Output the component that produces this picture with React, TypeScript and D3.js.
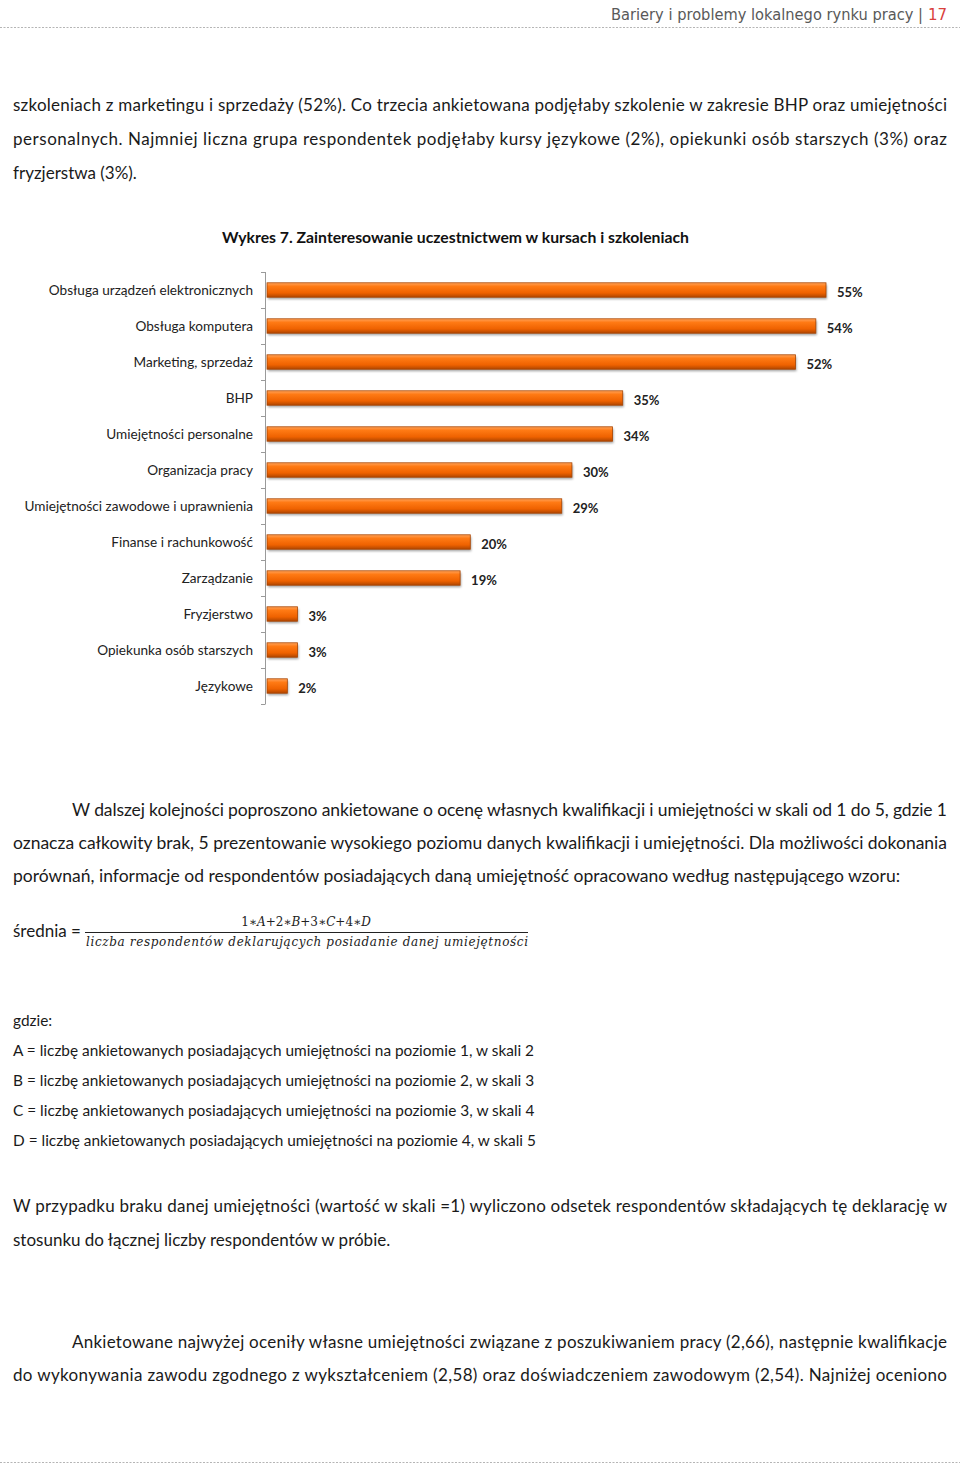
import React from "react";
import * as d3 from "d3";

const categories = [
  "Obsługa urządzeń elektronicznych",
  "Obsługa komputera",
  "Marketing, sprzedaż",
  "BHP",
  "Umiejętności personalne",
  "Organizacja pracy",
  "Umiejętności zawodowe i uprawnienia",
  "Finanse i rachunkowość",
  "Zarządzanie",
  "Fryzjerstwo",
  "Opiekunka osób starszych",
  "Językowe",
];
const values = [55, 54, 52, 35, 34, 30, 29, 20, 19, 3, 3, 2];

const chartTitle = "Wykres 7. Zainteresowanie uczestnictwem w kursach i szkoleniach";

const para1 = [
  { t: "szkoleniach z marketingu i sprzedaży (52%). Co trzecia ankietowana podjęłaby szkolenie w zakresie BHP oraz umiejętności", j: true, x: 13, y: 111 },
  { t: "personalnych. Najmniej liczna grupa respondentek podjęłaby kursy językowe (2%), opiekunki osób starszych (3%) oraz", j: true, x: 13, y: 145 },
  { t: "fryzjerstwa (3%).", j: false, x: 13, y: 179 },
];
const para2 = [
  { t: "W dalszej kolejności poproszono ankietowane o ocenę własnych kwalifikacji i umiejętności w skali od 1 do 5, gdzie 1", j: true, x: 72, y: 816 },
  { t: "oznacza całkowity brak, 5 prezentowanie wysokiego poziomu danych kwalifikacji i umiejętności. Dla możliwości dokonania", j: true, x: 13, y: 849 },
  { t: "porównań, informacje od respondentów posiadających daną umiejętność opracowano według następującego wzoru:", j: false, x: 13, y: 882 },
];
const defs = [
  "gdzie:",
  "A = liczbę ankietowanych posiadających umiejętności na poziomie 1, w skali 2",
  "B = liczbę ankietowanych posiadających umiejętności na poziomie 2, w skali 3",
  "C = liczbę ankietowanych posiadających umiejętności na poziomie 3, w skali 4",
  "D = liczbę ankietowanych posiadających umiejętności na poziomie 4, w skali 5",
];
const defsY = [1026, 1056, 1086, 1116, 1146];
const para3 = [
  { t: "W przypadku braku danej  umiejętności (wartość w skali =1) wyliczono odsetek respondentów składających tę deklarację w", j: true, x: 13, y: 1212 },
  { t: "stosunku do łącznej liczby respondentów w próbie.", j: false, x: 13, y: 1246 },
];
const para4 = [
  { t: "Ankietowane najwyżej oceniły własne umiejętności związane z poszukiwaniem pracy (2,66), następnie kwalifikacje", j: true, x: 72, y: 1348 },
  { t: "do wykonywania zawodu zgodnego z wykształceniem (2,58) oraz doświadczeniem zawodowym (2,54). Najniżej oceniono", j: true, x: 13, y: 1381 },
];

const BODY_FONT = "Lato, 'Open Sans', sans-serif";
const RIGHT = 947;

function Para({ lines, size = 17 }: { lines: { t: string; j: boolean; x: number; y: number }[]; size?: number }) {
  return (
    <g fontFamily={BODY_FONT} fontSize={size} fill="#1a1a1a">
      {lines.map((l, i) =>
        l.j ? (
          <text key={i} x={l.x} y={l.y} textLength={RIGHT - l.x} lengthAdjust="spacing">
            {l.t}
          </text>
        ) : (
          <text key={i} x={l.x} y={l.y}>
            {l.t}
          </text>
        )
      )}
    </g>
  );
}

export default function App() {
  const W = 960;
  const H = 1464;
  const axisX = 265;
  const x = d3.scaleLinear().domain([0, 55]).range([267, 826]);
  const y = d3
    .scaleBand<string>()
    .domain(categories)
    .range([272, 704])
    .paddingInner(0.6)
    .paddingOuter(0.3);
  const step = y.step();
  const tickYs = d3.range(categories.length + 1).map((i) => 272 + i * step);

  return (
    <svg
      width={W}
      height={H}
      viewBox={`0 0 ${W} ${H}`}
      style={{ position: "absolute", left: 0, top: 0, background: "#fff" }}
    >
      <defs>
        <linearGradient id="barGrad" x1="0" y1="0" x2="0" y2="1">
          <stop offset="0" stopColor="#ffa35a" />
          <stop offset="0.25" stopColor="#ff7a14" />
          <stop offset="0.7" stopColor="#ef6200" />
          <stop offset="1" stopColor="#b04600" />
        </linearGradient>
        <filter id="shadow" x="-5%" y="-50%" width="115%" height="250%">
          <feGaussianBlur stdDeviation="1.2" />
        </filter>
      </defs>
      <rect x={0} y={0} width={W} height={H} fill="#fff" />

      {/* header */}
      <text
        x={611}
        y={20}
        fontFamily="'DejaVu Sans', sans-serif"
        fontSize={15}
        fill="#595959"
        textLength={312}
        lengthAdjust="spacingAndGlyphs"
      >
        Bariery i problemy lokalnego rynku pracy |
      </text>
      <text
        x={947}
        y={20}
        textAnchor="end"
        fontFamily="'DejaVu Sans', sans-serif"
        fontSize={15}
        fill="#d9413c"
      >
        17
      </text>
      <line x1={0} x2={W} y1={27.5} y2={27.5} stroke="#b5b5b5" strokeDasharray="2,1.5" />
      <line x1={0} x2={W} y1={1462.5} y2={1462.5} stroke="#b5b5b5" strokeDasharray="2,1.5" />

      <Para lines={para1} />

      {/* chart title */}
      <text
        x={222}
        y={243}
        fontFamily={BODY_FONT}
        fontWeight="bold"
        fontSize={15.5}
        fill="#111"
        textLength={467}
        lengthAdjust="spacingAndGlyphs"
      >
        {chartTitle}
      </text>

      {/* axis */}
      <g stroke="#9a9a9a" strokeWidth={1}>
        <line x1={axisX + 0.5} x2={axisX + 0.5} y1={272} y2={704} />
        {tickYs.map((ty, i) => (
          <line key={i} x1={axisX - 4} x2={axisX + 0.5} y1={ty + 0.5} y2={ty + 0.5} />
        ))}
      </g>

      {/* bars */}
      {categories.map((c, i) => {
        const by = y(c) as number;
        const bh = y.bandwidth();
        const bw = x(values[i]) - x(0);
        return (
          <g key={c}>
            <rect
              x={x(0) + 1}
              y={by + 2}
              width={bw}
              height={bh}
              fill="rgba(0,0,0,0.35)"
              filter="url(#shadow)"
            />
            <rect
              x={x(0)}
              y={by}
              width={bw}
              height={bh}
              fill="url(#barGrad)"
              stroke="#a94400"
              strokeWidth={0.8}
            />
            <text
              x={253}
              y={by + bh / 2 + 5}
              textAnchor="end"
              fontFamily={BODY_FONT}
              fontSize={13.6}
              fill="#222"
            >
              {c}
            </text>
            <text
              x={x(values[i]) + 11}
              y={by + bh / 2 + 7}
              fontFamily={BODY_FONT}
              fontWeight="bold"
              fontSize={13}
              fill="#222"
            >
              {values[i]}%
            </text>
          </g>
        );
      })}

      <Para lines={para2} size={17.5} />

      {/* formula */}
      <text x={13} y={937} fontFamily={BODY_FONT} fontSize={17} fill="#1a1a1a">
        średnia =
      </text>
      <text
        x={306}
        y={926}
        textAnchor="middle"
        fontFamily="'DejaVu Serif', serif"
        fontSize={12}
        fill="#222"
      >
        1∗<tspan fontStyle="italic">A</tspan>+2∗<tspan fontStyle="italic">B</tspan>+3∗
        <tspan fontStyle="italic">C</tspan>+4∗<tspan fontStyle="italic">D</tspan>
      </text>
      <line x1={85} x2={528} y1={932.5} y2={932.5} stroke="#222" strokeWidth={1} />
      <text
        x={86}
        y={946}
        fontFamily="'DejaVu Serif', serif"
        fontStyle="italic"
        fontSize={12}
        fill="#222"
        textLength={442}
        lengthAdjust="spacing"
      >
        liczba respondentów deklarujących posiadanie danej umiejętności
      </text>

      <g fontFamily={BODY_FONT} fontSize={15.4} fill="#1a1a1a">
        {defs.map((d, i) => (
          <text key={i} x={13} y={defsY[i]}>
            {d}
          </text>
        ))}
      </g>

      <Para lines={para3} />
      <Para lines={para4} />
    </svg>
  );
}
